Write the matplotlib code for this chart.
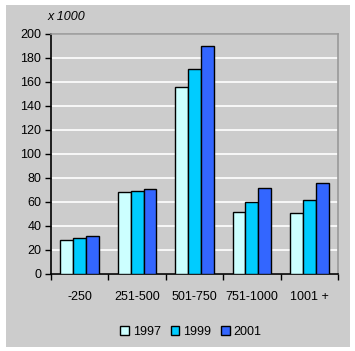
import matplotlib.pyplot as plt
from matplotlib.patches import Rectangle
import numpy as np

categories = ['-250', '251-500', '501-750', '751-1000', '1001 +']
years = ['1997', '1999', '2001']
v1997 = [28, 68, 156, 52, 51]
v1999 = [30, 69, 171, 60, 62]
v2001 = [31.5, 71, 190, 72, 75.5]
colors = ['#CCFFFF', '#00CCFF', '#3366FF']

plt.rcParams['font.family'] = ['Liberation Sans', 'DejaVu Sans']
plt.rcParams['font.size'] = 9

W, H = 355, 351
fig = plt.figure(figsize=(W / 100, H / 100), dpi=100)
fig.patch.set_facecolor('white')
# gray chart area, leaving a thin white margin
fig.patches.append(Rectangle((6 / W, 1 - 347 / H), 344 / W, 342 / H,
                             transform=fig.transFigure, facecolor='#CCCCCC',
                             edgecolor='none', zorder=-1))

ax = fig.add_axes([51 / W, 1 - 274 / H, 287 / W, 240 / H])
ax.set_facecolor('#CCCCCC')

x = np.arange(len(categories))
bw = 0.223
for i, (vals, c) in enumerate(zip([v1997, v1999, v2001], colors)):
    ax.bar(x + (i - 1) * bw, vals, bw, color=c, edgecolor='black',
           linewidth=1, label=years[i], zorder=3)

ax.set_xlim(-0.5, len(categories) - 0.5)
ax.set_ylim(0, 200)
ax.set_yticks(range(0, 201, 20))
ax.yaxis.grid(True, color='white', linewidth=1.2, zorder=1)
ax.set_axisbelow(True)
ax.set_xticks(x)
ax.set_xticklabels(categories)
ax.set_xticks(np.arange(-0.5, len(categories)), minor=True)
ax.tick_params(axis='x', which='major', length=0, pad=12)
ax.tick_params(axis='x', which='minor', length=4, width=1, direction='out')
ax.tick_params(axis='y', length=4, width=1, direction='out', pad=3)

for s in ['left', 'bottom']:
    ax.spines[s].set_color('black')
    ax.spines[s].set_linewidth(1.2)
for s in ['top', 'right']:
    ax.spines[s].set_color('#999999')
    ax.spines[s].set_linewidth(1.2)

fig.text(48 / W, 1 - 17 / H, 'x 1000', style='italic', va='center', ha='left')

leg = ax.legend(loc='center', bbox_to_anchor=(191 / W, 1 - 332 / H),
                bbox_transform=fig.transFigure, ncol=3, frameon=False,
                handlelength=0.7, handleheight=0.7, handletextpad=0.3,
                columnspacing=0.8)

fig.savefig('out.png', dpi=100, facecolor=fig.get_facecolor())
